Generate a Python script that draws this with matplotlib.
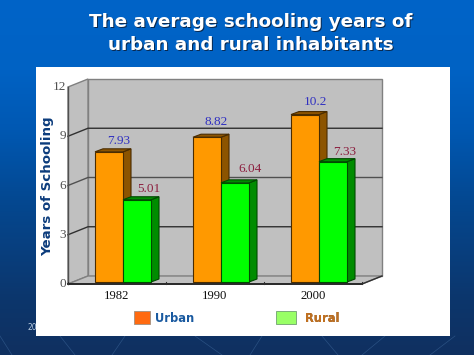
import numpy as np
import matplotlib
matplotlib.use("Agg")
import matplotlib.pyplot as plt
from matplotlib.patches import Polygon, Rectangle

years = ["1982", "1990", "2000"]
urban = [7.93, 8.82, 10.2]
rural = [5.01, 6.04, 7.33]
urban_labels = ["7.93", "8.82", "10.2"]
rural_labels = ["5.01", "6.04", "7.33"]
y_ticks = [0, 3, 6, 9, 12]

# label nudges in pixels (x, y above the bar top)
urban_nudge = [(10, 11), (9, 15), (10, 13)]
rural_nudge = [(12, 11), (15, 14), (12, 10)]

serif = "Liberation Serif"
fig = plt.figure(figsize=(4.74, 3.55), dpi=100)

# slide background + white panel, in pixel coordinates
bg = fig.add_axes([0, 0, 1, 1])
bg.set_xlim(0, 474)
bg.set_ylim(355, 0)
bg.axis("off")
ys = np.linspace(0, 355, 356)
grad = np.stack([
    np.interp(ys, [0, 70, 130, 200, 300, 355], [0, 0, 0, 4, 12, 16]),
    np.interp(ys, [0, 70, 130, 200, 300, 355], [100, 98, 88, 72, 54, 48]),
    np.interp(ys, [0, 70, 130, 200, 300, 355], [200, 196, 178, 145, 108, 96]),
], axis=1)[:, None, :] / 255
bg.imshow(grad, extent=[0, 474, 355, 0], aspect="auto", zorder=0)
for x0, x1 in [(0, 12), (60, 75), (125, 112), (195, 222), (262, 250), (322, 338), (385, 362), (455, 430)]:
    bg.plot([x0, x1], [336, 355], color="#5c8cc0", lw=0.5, alpha=0.35, zorder=1)
bg.text(28, 327, "20", color="#b8cce0", fontsize=5.5, va="center", zorder=1)
bg.add_patch(Rectangle((36, 67), 414, 269, facecolor="white", edgecolor="none", zorder=2))

title = ["The average schooling years of", "urban and rural inhabitants"]
for line, yy in zip(title, [22, 45]):
    bg.text(251.8, yy + 0.9, line, color="#0a2a50", fontsize=13.2, fontweight="bold", ha="center", va="center", zorder=3)
    bg.text(251, yy, line, color="white", fontsize=13.2, fontweight="bold", ha="center", va="center", zorder=4)

bg.text(48, 186, "Years of Schooling", color="#0c3c7c", fontsize=9.6, fontweight="bold",
        rotation=90, ha="center", va="center", zorder=3)

bg.add_patch(Rectangle((134, 311), 16, 13, facecolor="#ff6a10", edgecolor="#a09080", lw=0.6, zorder=3))
bg.text(155, 318, "Urban", color="#1a5aa0", fontsize=8.3, fontweight="bold", va="center", zorder=3)
bg.add_patch(Rectangle((276, 311), 20, 13, facecolor="#99ff66", edgecolor="#70a070", lw=0.6, zorder=3))
bg.text(305.5, 318.5, "Rural", color="#703c08", fontsize=8.3, fontweight="bold", va="center", zorder=3)
bg.text(305, 318, "Rural", color="#c07020", fontsize=8.3, fontweight="bold", va="center", zorder=3)

# chart: front plane is the axes box, depth is added by hand
ax = fig.add_axes([68 / 474, 1 - 284 / 355, 294 / 474, 197 / 355])
ax.set_xlim(0, 3)
ax.set_ylim(0, 12)
ax.patch.set_visible(False)
for s in ax.spines.values():
    s.set_visible(False)
ax.set_xticks([])
ax.set_yticks([])

px = 3 / 294
py = 12 / 197
dx = 20 * px
dy = 8 * py


def poly(pts, fc, ec="none", lw=0.8, z=2):
    ax.add_patch(Polygon(pts, closed=True, facecolor=fc, edgecolor=ec, lw=lw, zorder=z, clip_on=False))


# walls
wall = "#c0c0c0"
edge = "#808080"
poly([(dx, dy), (3 + dx, dy), (3 + dx, 12 + dy), (dx, 12 + dy)], wall, edge, 1.0, 1)
poly([(0, 0), (dx, dy), (dx, 12 + dy), (0, 12)], wall, edge, 1.0, 1)
poly([(0, 0), (3, 0), (3 + dx, dy), (dx, dy)], wall, edge, 1.0, 1)

for t in y_ticks:
    if 0 < t < 12:
        lc = "#303030" if t != 6 else "#505050"
        ax.plot([0, dx, 3 + dx], [t, t + dy, t + dy], color=lc, lw=1.0, zorder=1.5, clip_on=False)
    ax.text(-2 * px, t, str(t), family=serif, color="#505050", fontsize=9.5, ha="right", va="center")

# front axis lines and ticks
ax.plot([0, 0], [0, 12], color="#505050", lw=1.0, zorder=1.6, clip_on=False)
ax.plot([0, 3], [0, 0], color="#202020", lw=1.3, zorder=1.6, clip_on=False)
ax.plot([3, 3 + dx], [0, dy], color="#303030", lw=1.0, zorder=1.6, clip_on=False)
for i in range(4):
    ax.plot([i, i], [0, 2 * py], color="#303030", lw=0.8, zorder=1.6, clip_on=False)
for i in range(3):
    ax.text(i + 0.5, -12 * py, years[i], family=serif, color="#101010", fontsize=9.2, ha="center", va="center")


def bar3d(x, h, front, top, side, outline):
    # bar sits 2 px into the floor, 8x3 px of depth; value is measured from its own base
    oy = 2 * py
    w = 28 * px
    bx = 8 * px
    by = 3 * py
    h = h + oy
    poly([(x + w, oy), (x + w + bx, oy + by), (x + w + bx, h + by), (x + w, h)], side, outline, 0.8, 3)
    poly([(x, h), (x + w, h), (x + w + bx, h + by), (x + bx, h + by)], top, outline, 0.8, 3)
    poly([(x, oy), (x + w, oy), (x + w, h), (x, h)], front, outline, 0.8, 3)


for i in range(3):
    xu = i + 0.5 - 22 * px
    xr = xu + 28 * px
    bar3d(xu, urban[i], "#ff9900", "#8c5400", "#8c5400", "#4a2c00")
    bar3d(xr, rural[i], "#00ff00", "#008c00", "#008c00", "#004a00")
    nx, ny = urban_nudge[i]
    ax.text(xu + (14 + nx) * px, urban[i] + (2 + ny) * py, urban_labels[i], family=serif,
            color="#3030c0", fontsize=9.5, ha="center", va="center", zorder=5, clip_on=False)
    nx, ny = rural_nudge[i]
    ax.text(xr + (14 + nx) * px, rural[i] + (2 + ny) * py, rural_labels[i], family=serif,
            color="#8c2040", fontsize=9.5, ha="center", va="center", zorder=5, clip_on=False)

fig.savefig("out.png", dpi=100)
